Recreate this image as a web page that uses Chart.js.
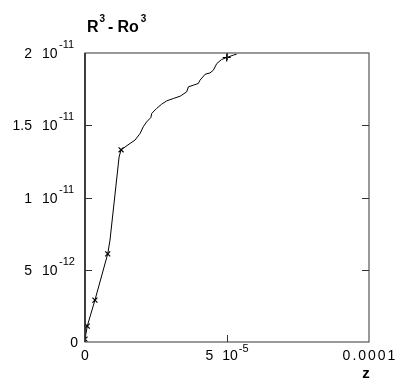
<!DOCTYPE html>
<html>
<head>
<meta charset="utf-8">
<script src="https://cdn.jsdelivr.net/npm/chart.js@4/dist/chart.umd.min.js"></script>
<style>
html,body{margin:0;padding:0;background:#fff;}
#c{display:block;}
</style>
</head>
<body>
<canvas id="c" width="395" height="380" style="width:395px;height:380px"></canvas>
<script>
// ---- data ----
const zValues = [0, 0.8e-6, 3.5e-6, 8.0e-6, 8.8e-6, 12.0e-6, 12.7e-6, 15.85e-6, 17.6e-6, 19.4e-6,
  20.5e-6, 21.7e-6, 23.2e-6, 23.5e-6, 25.2e-6, 27.0e-6, 28.8e-6, 31.1e-6, 33.5e-6, 35.8e-6,
  36.4e-6, 38.1e-6, 39.9e-6, 40.5e-6, 42.3e-6, 44.0e-6, 45.2e-6, 46.4e-6, 48.1e-6, 49.9e-6,
  52.2e-6, 53.4e-6];
const rValues = [0.2e-12, 1.1e-12, 2.9e-12, 6.1e-12, 7.05e-12, 12.8e-12, 13.3e-12, 13.74e-12, 13.97e-12, 14.43e-12,
  14.89e-12, 15.23e-12, 15.54e-12, 15.82e-12, 16.16e-12, 16.46e-12, 16.69e-12, 16.85e-12, 17.01e-12, 17.31e-12,
  17.66e-12, 17.77e-12, 17.89e-12, 18.12e-12, 18.53e-12, 18.62e-12, 18.81e-12, 19.27e-12, 19.55e-12, 19.69e-12,
  19.85e-12, 19.92e-12];
const crossZ = [0, 0.8e-6, 3.5e-6, 8.0e-6, 12.7e-6];
const crossR = [0.2e-12, 1.1e-12, 2.9e-12, 6.1e-12, 13.3e-12];
const plusZ = [49.9e-6];
const plusR = [19.69e-12];

const yTickValues = [0, 5e-12, 1e-11, 1.5e-11, 2e-11];
const yTickMant = ['0', '5', '1', '1.5', '2'];
const yTickExp = ['', '-12', '-11', '-11', '-11'];
const xTickValues = [0, 5e-5, 1e-4];
const xTickMant = ['0', '5', '0.0001'];
const xTickExp = ['', '-5', ''];
const titleParts = ['R', '3', '-', 'Ro', '3'];
const xAxisTitle = 'z';
const Y_MIN = 0, Y_MAX = 2e-11, X_MIN = 0, X_MAX = 1e-4;

const FONT = '"Liberation Sans", Arial, Helvetica, sans-serif';

function pts(xs, ys){ return xs.map((x,i)=>({x:x, y:ys[i]})); }

const decor = {
  id: 'decor',
  afterDraw(chart){
    const ctx = chart.ctx;
    const a = chart.chartArea;
    const xs = chart.scales.x, ys = chart.scales.y;
    ctx.save();
    // frame
    ctx.strokeStyle = '#555';
    ctx.lineWidth = 1.2;
    ctx.strokeRect(a.left, a.top, a.right - a.left, a.bottom - a.top);
    ctx.strokeStyle = '#222';
    ctx.lineWidth = 1.5;
    ctx.beginPath(); ctx.moveTo(a.left, a.top); ctx.lineTo(a.left, a.bottom); ctx.stroke();
    // inward ticks
    const TL = 7;
    ctx.strokeStyle = '#333';
    ctx.lineWidth = 1;
    ctx.beginPath();
    yTickValues.forEach(v=>{
      if (v === Y_MIN || v === Y_MAX) return;
      const py = Math.round(ys.getPixelForValue(v)) + 0.5;
      ctx.moveTo(a.left, py); ctx.lineTo(a.left + TL, py);
      ctx.moveTo(a.right, py); ctx.lineTo(a.right - TL, py);
    });
    xTickValues.forEach(v=>{
      if (v === X_MIN || v === X_MAX) return;
      const px = Math.round(xs.getPixelForValue(v)) + 0.5;
      ctx.moveTo(px, a.bottom); ctx.lineTo(px, a.bottom - TL);
      ctx.moveTo(px, a.top); ctx.lineTo(px, a.top + TL);
    });
    ctx.stroke();

    // tick labels
    ctx.fillStyle = '#000';
    ctx.textBaseline = 'alphabetic';
    const baseFont = '14px ' + FONT;
    const expFont = '11px ' + FONT;
    // y labels: mantissa right-aligned, "10" column, exponent
    yTickValues.forEach((v,i)=>{
      const py = ys.getPixelForValue(v);
      if (!yTickExp[i]) {
        ctx.font = baseFont; ctx.textAlign = 'right';
        ctx.fillText(yTickMant[i], a.left - 7, py + 5);
        return;
      }
      ctx.font = baseFont; ctx.textAlign = 'right';
      ctx.fillText(yTickMant[i], a.left - 53, py + 5);
      ctx.textAlign = 'left';
      ctx.fillText('10', a.left - 43, py + 5);
      ctx.font = expFont;
      ctx.fillText(yTickExp[i], a.left - 26, py - 5);
    });
    // x labels
    xTickValues.forEach((v,i)=>{
      const px = xs.getPixelForValue(v);
      const by = a.bottom + 18;
      if (!xTickExp[i]) {
        ctx.font = baseFont; ctx.textAlign = 'center';
        if (xTickMant[i].length > 2) {
          try { ctx.letterSpacing = '2px'; } catch(e) {}
          ctx.fillText(xTickMant[i], px + 1, by);
          try { ctx.letterSpacing = '0px'; } catch(e) {}
        } else {
          ctx.fillText(xTickMant[i], px, by);
        }
        return;
      }
      ctx.font = baseFont; ctx.textAlign = 'left';
      const mW = ctx.measureText(xTickMant[i]).width;
      const tW = ctx.measureText('10').width;
      ctx.font = expFont;
      const eW = ctx.measureText(xTickExp[i]).width;
      const gap = 9;
      const total = mW + gap + tW + 1 + eW;
      let x0 = px - total / 2;
      ctx.font = baseFont;
      ctx.fillText(xTickMant[i], x0, by);
      ctx.fillText('10', x0 + mW + gap, by);
      ctx.font = expFont;
      ctx.fillText(xTickExp[i], x0 + mW + gap + tW + 1, by - 8);
    });

    // title R^3 - Ro^3
    ctx.textAlign = 'left';
    const tB = 'bold 16px ' + FONT, tE = 'bold 10px ' + FONT;
    let tx = 87, tby = 32;
    ctx.font = tB; ctx.fillText(titleParts[0], tx, tby); tx += ctx.measureText(titleParts[0]).width + 1;
    ctx.font = tE; ctx.fillText(titleParts[1], tx, tby - 10); tx += ctx.measureText(titleParts[1]).width + 3;
    ctx.font = tB; ctx.fillText(titleParts[2], tx, tby); tx += ctx.measureText(titleParts[2]).width + 4;
    ctx.fillText(titleParts[3], tx, tby); tx += ctx.measureText(titleParts[3]).width + 2;
    ctx.font = tE; ctx.fillText(titleParts[4], tx, tby - 10);

    // x axis title
    ctx.font = 'bold 15px ' + FONT; ctx.textAlign = 'center';
    ctx.fillText(xAxisTitle, 366, 378);
    ctx.restore();
  }
};

new Chart(document.getElementById('c'), {
  type: 'scatter',
  data: {
    datasets: [
      { data: pts(zValues, rValues), showLine: true, borderColor: '#000', borderWidth: 1,
        pointRadius: 0, tension: 0, fill: false },
      { data: pts(crossZ, crossR), showLine: false, pointStyle: 'crossRot', pointRadius: 3.5,
        borderColor: '#000', borderWidth: 1.2 },
      { data: pts(plusZ, plusR), showLine: false, pointStyle: 'cross', pointRadius: 4,
        borderColor: '#000', borderWidth: 1.2 }
    ]
  },
  options: {
    responsive: false,
    animation: false,
    devicePixelRatio: 1,
    layout: { padding: { left: 85, right: 26, top: 53, bottom: 38 } },
    plugins: { legend: { display: false }, tooltip: { enabled: false }, title: { display: false } },
    scales: {
      x: {
        type: 'linear', min: X_MIN, max: X_MAX,
        grid: { display: false, drawTicks: false }, border: { display: false },
        ticks: { display: false },
        afterBuildTicks: s => { s.ticks = xTickValues.map(v => ({ value: v })); },
        afterFit: s => { s.height = 0; }
      },
      y: {
        type: 'linear', min: Y_MIN, max: Y_MAX,
        grid: { display: false, drawTicks: false }, border: { display: false },
        ticks: { display: false },
        afterBuildTicks: s => { s.ticks = yTickValues.map(v => ({ value: v })); },
        afterFit: s => { s.width = 0; }
      }
    }
  },
  plugins: [decor]
});
</script>
</body>
</html>
